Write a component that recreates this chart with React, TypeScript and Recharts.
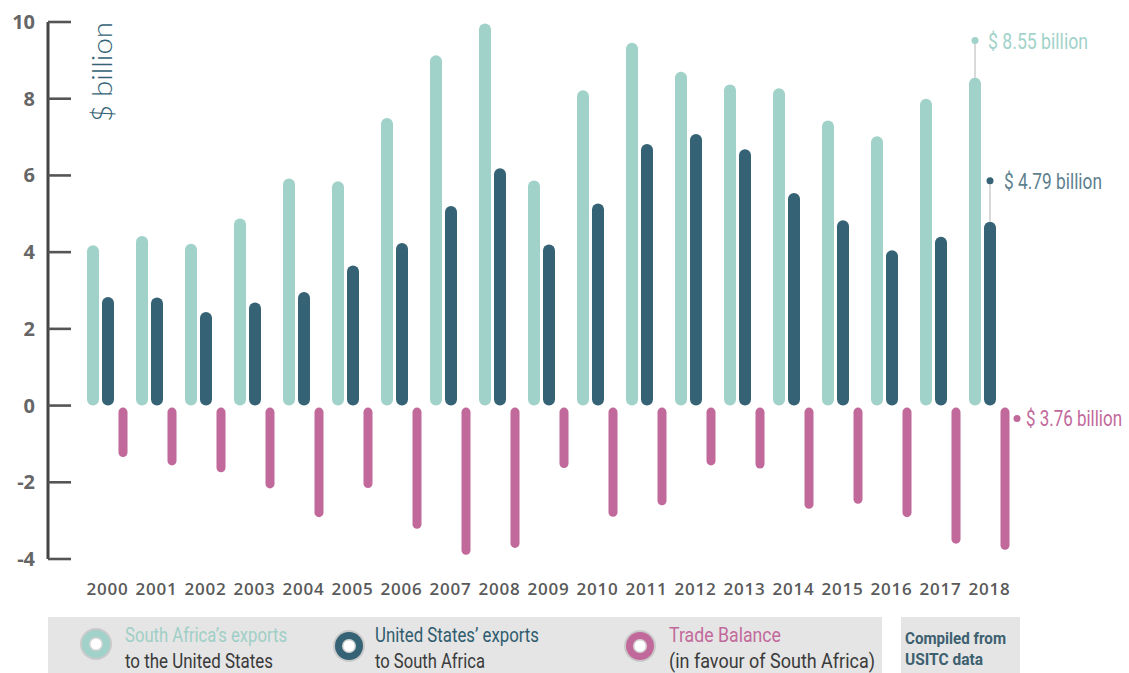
import { BarChart, Bar, XAxis, YAxis, LabelList } from 'recharts';

const YEARS = ['2000', '2001', '2002', '2003', '2004', '2005', '2006', '2007', '2008', '2009',
  '2010', '2011', '2012', '2013', '2014', '2015', '2016', '2017', '2018'];
const SA_EXPORTS = [4.18, 4.42, 4.22, 4.88, 5.92, 5.85, 7.5, 9.13, 9.96, 5.87, 8.22, 9.46, 8.7, 8.37, 8.27, 7.43, 7.02, 8.0, 8.55];
const US_EXPORTS = [2.83, 2.82, 2.44, 2.69, 2.96, 3.65, 4.24, 5.2, 6.19, 4.2, 5.27, 6.82, 7.08, 6.68, 5.54, 4.83, 4.05, 4.4, 4.79];
const TRADE_BALANCE = [-1.34, -1.56, -1.74, -2.16, -2.91, -2.15, -3.21, -3.89, -3.71, -1.63, -2.9, -2.6, -1.56, -1.64, -2.69, -2.56, -2.91, -3.6, -3.76];
const Y_TICKS = [-4, -2, 0, 2, 4, 6, 8, 10];

const LIGHT = '#a1d2c9';
const DARK = '#356275';
const PINK = '#c2699b';
const NARROW = '"Liberation Sans Narrow", "Roboto", sans-serif';
const LAST = YEARS.length - 1;

const data = YEARS.map((year, i) => ({
  year,
  sa: SA_EXPORTS[i],
  us: US_EXPORTS[i],
  balance: TRADE_BALANCE[i],
}));

function norm(p: any) {
  const h = Number(p.height) || 0;
  const top = h < 0 ? p.y + h : p.y;
  return { x: p.x, top, w: p.width, h: Math.abs(h) };
}

function Pill(props: any) {
  const { x, top, w, h } = norm(props);
  return <rect x={x} y={top} width={w} height={h} rx={w / 2} ry={w / 2} fill={props.fill} />;
}

function ThinPill(props: any) {
  const { x, top, w, h } = norm(props);
  const nw = 9;
  return <rect x={x + (w - nw) / 2} y={top + 2} width={nw} height={Math.max(h - 2, 0)} rx={nw / 2} ry={nw / 2} fill={props.fill} />;
}

function isLast(p: any, arr: number[]) {
  return p.index !== undefined ? p.index === LAST : p.value === arr[LAST];
}

function SaNote(p: any) {
  if (!isLast(p, SA_EXPORTS)) return null;
  const { x, top, w } = norm(p);
  const cx = x + w / 2;
  const dy = top - 37;
  return (
    <g>
      <line x1={cx} y1={dy} x2={cx} y2={top} stroke="#cccccc" strokeWidth={1.5} />
      <circle cx={cx} cy={dy} r={3.5} fill={LIGHT} />
      <text x={cx + 13} y={dy} dy="0.36em" fontFamily={NARROW} fontSize={22} fill={LIGHT}
        textLength={100} lengthAdjust="spacingAndGlyphs">$ 8.55 billion</text>
    </g>
  );
}

function UsNote(p: any) {
  if (!isLast(p, US_EXPORTS)) return null;
  const { x, top, w } = norm(p);
  const cx = x + w / 2;
  const dy = top - 41;
  return (
    <g>
      <line x1={cx} y1={dy} x2={cx} y2={top} stroke="#cccccc" strokeWidth={1.5} />
      <circle cx={cx} cy={dy} r={3.5} fill={DARK} />
      <text x={cx + 14} y={dy} dy="0.36em" fontFamily={NARROW} fontSize={22} fill="#5e7f8e"
        textLength={98} lengthAdjust="spacingAndGlyphs">$ 4.79 billion</text>
    </g>
  );
}

function BalanceNote(p: any) {
  if (!isLast(p, TRADE_BALANCE)) return null;
  const { x, top, w } = norm(p);
  const cx = x + w / 2;
  const dy = top + 13;
  return (
    <g>
      <circle cx={cx + 12} cy={dy} r={3.5} fill={PINK} />
      <text x={cx + 21} y={dy} dy="0.36em" fontFamily={NARROW} fontSize={22} fill={PINK}
        textLength={96} lengthAdjust="spacingAndGlyphs">$ 3.76 billion</text>
    </g>
  );
}

function YTick(p: any) {
  const { x, y, payload } = p;
  return (
    <g>
      <line x1={x} y1={y} x2={x + 23} y2={y} stroke="#555" strokeWidth={2.6} />
      <text x={x - 13} y={y} dy="0.35em" textAnchor="end" fontFamily="'Open Sans', sans-serif"
        fontWeight={700} fontSize={20} fill="#666">{payload.value}</text>
    </g>
  );
}

function XTick(p: any) {
  const { x, y, payload } = p;
  return (
    <text x={x} y={y} dy="0.71em" textAnchor="middle" fontFamily="'Open Sans', sans-serif"
      fontWeight={600} fontSize={17} fill="#5a5a5a" letterSpacing={0.8}>{payload.value}</text>
  );
}

function Ring({ cx, cy, color }: { cx: number; cy: number; color: string }) {
  return (
    <g>
      <circle cx={cx} cy={cy} r={16} fill="#cacaca" />
      <circle cx={cx} cy={cy} r={14} fill={color} />
      <circle cx={cx} cy={cy} r={7} fill="#d4d4d4" />
      <circle cx={cx} cy={cy} r={5.5} fill="#ffffff" />
    </g>
  );
}

function Overlay() {
  const t = { fontFamily: NARROW, fontSize: 21, lengthAdjust: 'spacingAndGlyphs' as const };
  return (
    <svg width={1129} height={673} style={{ position: 'absolute', left: 0, top: 0, pointerEvents: 'none' }}>
      <text transform="translate(112 122) rotate(-90)" fontFamily="Lato, sans-serif" fontWeight={300}
        fontSize={28} fill={DARK} textLength={100} lengthAdjust="spacingAndGlyphs">$ billion</text>

      <rect x={48} y={617} width={834} height={56} fill="#e5e5e5" />
      <rect x={901} y={617} width={119} height={56} fill="#e5e5e5" />

      <Ring cx={96} cy={644} color={LIGHT} />
      <text x={125} y={642} fill="#9fcfc6" textLength={162} {...t}>South Africa’s exports</text>
      <text x={125} y={668} fill="#3a3a3a" textLength={148} {...t}>to the United States</text>

      <Ring cx={349} cy={646} color={DARK} />
      <text x={375} y={642} fill="#2f5c6e" textLength={164} {...t}>United States’ exports</text>
      <text x={375} y={668} fill="#3a3a3a" textLength={110} {...t}>to South Africa</text>

      <Ring cx={640} cy={646} color={PINK} />
      <text x={669} y={642} fill={PINK} textLength={112} {...t}>Trade Balance</text>
      <text x={669} y={668} fill="#3a3a3a" textLength={206} {...t}>(in favour of South Africa)</text>

      <text x={905} y={644} fill="#3d6070" fontFamily={NARROW} fontWeight={700} fontSize={17}
        textLength={101} lengthAdjust="spacingAndGlyphs">Compiled from</text>
      <text x={905} y={665} fill="#3d6070" fontFamily={NARROW} fontWeight={700} fontSize={17}
        textLength={78} lengthAdjust="spacingAndGlyphs">USITC data</text>
    </svg>
  );
}

export default function App() {
  return (
    <div style={{ position: 'absolute', left: 0, top: 0, width: 1129, height: 673, background: '#fff' }}>
      <BarChart width={1129} height={600} data={data} barSize={12} barGap={3}
        margin={{ top: 22, right: 115, bottom: 1, left: 0 }}>
        <XAxis dataKey="year" axisLine={false} tickLine={false} tickSize={0} tickMargin={24}
          interval={0} height={40} padding={{ left: 35, right: 0 }} tick={<XTick />} />
        <YAxis domain={[-4, 10]} ticks={Y_TICKS} width={48} tickSize={0} tickMargin={0} tickLine={false}
          axisLine={{ stroke: '#444', strokeWidth: 3 }} tick={<YTick />} interval={0} />
        <Bar dataKey="sa" fill={LIGHT} shape={<Pill />} isAnimationActive={false}>
          <LabelList dataKey="sa" content={<SaNote />} />
        </Bar>
        <Bar dataKey="us" fill={DARK} shape={<Pill />} isAnimationActive={false}>
          <LabelList dataKey="us" content={<UsNote />} />
        </Bar>
        <Bar dataKey="balance" fill={PINK} shape={<ThinPill />} isAnimationActive={false}>
          <LabelList dataKey="balance" content={<BalanceNote />} />
        </Bar>
      </BarChart>
      <Overlay />
    </div>
  );
}
